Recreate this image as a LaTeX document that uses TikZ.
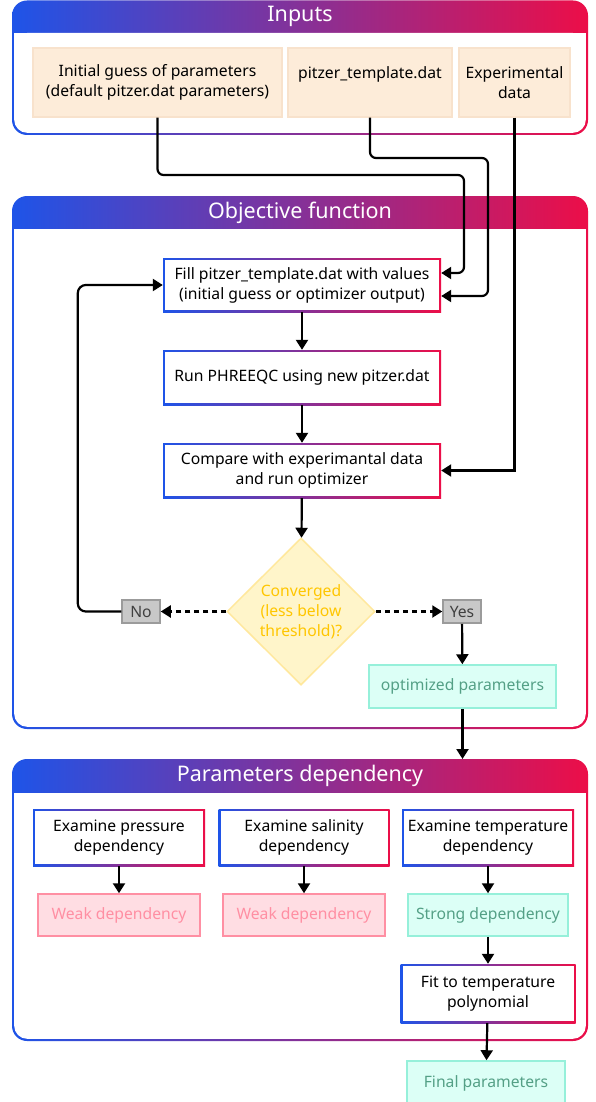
\documentclass[tikz,border=0pt]{standalone}
\usepackage{fontspec}
\setmainfont{Noto Sans}
\usetikzlibrary{positioning,shapes.geometric,arrows.meta}

\definecolor{cBlue}{RGB}{30,84,232}
\definecolor{cRed}{RGB}{236,14,72}
\definecolor{cPeach}{RGB}{253,236,217}
\definecolor{cPeachD}{RGB}{248,226,204}
\definecolor{cPink}{RGB}{255,221,227}
\definecolor{cPinkD}{RGB}{255,143,163}
\definecolor{cMint}{RGB}{220,255,246}
\definecolor{cMintD}{RGB}{150,240,218}
\definecolor{cMintT}{RGB}{84,160,134}
\definecolor{cGrey}{RGB}{200,200,200}
\definecolor{cGreyD}{RGB}{155,155,155}
\definecolor{cYel}{RGB}{255,245,202}
\definecolor{cYelD}{RGB}{255,232,156}
\definecolor{cGold}{RGB}{255,198,0}

\tikzset{
  every node/.style={font=\fontsize{15.7}{20}\selectfont},
  inbox/.style={fill=cPeach, draw=cPeachD, line width=1.5pt, align=center, inner sep=0},
  gradbox/.style={left color=cBlue, right color=cRed, align=center, inner sep=0,
    path picture={\fill[white] ([shift={(2pt,2pt)}]path picture bounding box.south west)
      rectangle ([shift={(-2pt,-2pt)}]path picture bounding box.north east);}},
  weakbox/.style={fill=cPink, draw=cPinkD, line width=1.5pt, text=cPinkD, inner sep=0},
  strongbox/.style={fill=cMint, draw=cMintD, line width=1.5pt, text=cMintT, inner sep=0},
  tagbox/.style={fill=cGrey, draw=cGreyD, line width=1.5pt, text=black!75, inner sep=0},
  decision/.style={diamond, fill=cYel, draw=cYelD, line width=1.5pt, text=cGold, align=center, inner sep=0},
  paneltitle/.style={text=white, font=\fontsize{21.5}{24}\selectfont},
  arr/.style={-{Triangle[length=10pt,width=12pt]}, line width=2.2pt},
}

% panel: top, header bottom, bottom, title
\newcommand{\drawpanel}[4]{%
  \shade[left color=cBlue, right color=cRed, rounded corners=15pt] (12,-#1) rectangle (588,-#3);
  \fill[white, rounded corners=13pt] (14.2,-#2) rectangle (585.8,{-#3+2.2});
  \fill[white] (14.2,-#2) rectangle (585.8,{-#2-20});
  \node[paneltitle] at (300,{-(#1+#2)/2}) {#4};}

\begin{document}
\begin{tikzpicture}[x=1pt,y=1pt]
  \fill[white] (0,0) rectangle (595,-1102);
  \useasboundingbox (0,0) rectangle (595,-1102);

  \drawpanel{0.5}{33}{135}{Inputs}
  \drawpanel{196}{229}{729}{Objective function}
  \drawpanel{759}{793}{1041}{Parameters dependency}

  % inputs
  \node[inbox, minimum width=249, minimum height=69] (in1) at (157.5,-82.5) {Initial guess of parameters\\(default pitzer.dat parameters)};
  \node[inbox, minimum width=164, minimum height=69] (in2) at (370,-82.5) {pitzer\_template.dat\\\phantom{x}};
  \node[inbox, minimum width=111, minimum height=69] (in3) at (514.5,-82.5) {Experimental\\data};

  % objective function
  \node[gradbox, minimum width=278, minimum height=54] (fill) at (302,-285) {Fill pitzer\_template.dat with values\\(initial guess or optimizer output)};
  \node[gradbox, minimum width=278, minimum height=55] (run) at (302,-377.5) {Run PHREEQC using new pitzer.dat};
  \node[gradbox, minimum width=278, minimum height=55] (cmp) at (302,-470.5) {Compare with experimantal data\\and run optimizer};
  \node[decision, minimum width=148, minimum height=147] (conv) at (301,-611.5) {Converged\\(less below\\threshold)?};
  \node[tagbox, minimum width=38, minimum height=23] (no) at (141,-611.5) {No};
  \node[tagbox, minimum width=38, minimum height=23] (yes) at (462,-611.5) {Yes};
  \node[strongbox, minimum width=187, minimum height=43] (opt) at (462.5,-686.5) {optimized parameters};

  % parameters dependency
  \node[gradbox, minimum width=172, minimum height=57] (exA) at (119,-837.5) {Examine pressure\\dependency};
  \node[gradbox, minimum width=171, minimum height=57] (exB) at (304,-837.5) {Examine salinity\\dependency};
  \node[gradbox, minimum width=172, minimum height=57] (exC) at (488,-837.5) {Examine temperature\\dependency};
  \node[weakbox, minimum width=162, minimum height=42] (weakA) at (119,-915) {Weak dependency};
  \node[weakbox, minimum width=162, minimum height=42] (weakB) at (304,-915) {Weak dependency};
  \node[strongbox, minimum width=160, minimum height=42] (strong) at (488,-915) {Strong dependency};
  \node[gradbox, minimum width=175, minimum height=59] (fit) at (488,-993.5) {Fit to temperature\\polynomial};
  \node[strongbox, minimum width=158, minimum height=44] (final) at (486,-1083) {Final parameters};
  \coordinate (pdtop) at (462.5,-759);

  % connectors
  \draw[arr, rounded corners=6pt] (in1.south) |- (464,-175) |- ([yshift=12pt]fill.east);
  \draw[arr, rounded corners=6pt] (in2.south) |- (488,-158) |- ([yshift=-11pt]fill.east);
  \draw[arr] (in3.south) |- (cmp.east);
  \draw[arr] (fill) -- (run);
  \draw[arr] (run) -- (cmp);
  \draw[arr] (cmp) -- (conv);
  \draw[arr, dashed, dash pattern=on 5pt off 4pt] (conv.west) -- (no.east);
  \draw[arr, dashed, dash pattern=on 5pt off 4pt] (conv.east) -- (yes.west);
  \draw[arr, rounded corners=8pt] (no.west) -| ([xshift=-85pt]fill.west) -- (fill.west);
  \draw[arr] (yes) -- (opt);
  \draw[arr] (opt) -- (pdtop);
  \draw[arr] (exA) -- (weakA);
  \draw[arr] (exB) -- (weakB);
  \draw[arr] (exC) -- (strong);
  \draw[arr] (strong) -- (fit);
  \draw[arr] (fit) -- (final);
\end{tikzpicture}
\end{document}
